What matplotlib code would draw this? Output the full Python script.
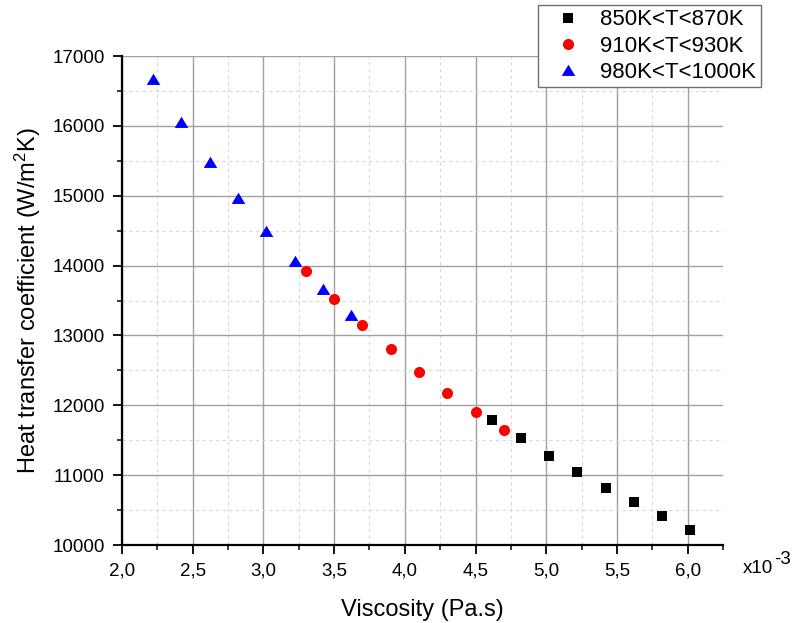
import numpy as np
import matplotlib.pyplot as plt
from matplotlib.ticker import MultipleLocator, FuncFormatter

plt.rcParams['font.family'] = ['Liberation Sans', 'DejaVu Sans']
plt.rcParams['mathtext.fontset'] = 'custom'
plt.rcParams['mathtext.rm'] = 'Liberation Sans'
plt.rcParams['mathtext.it'] = 'Liberation Sans:italic'

# viscosity values are in units of 1e-3 Pa.s
visc_850 = [4.62, 4.82, 5.02, 5.22, 5.42, 5.62, 5.82, 6.02]
htc_850 = [11790, 11530, 11280, 11040, 10820, 10610, 10410, 10220]

visc_910 = [3.30, 3.50, 3.70, 3.90, 4.10, 4.30, 4.50, 4.70]
htc_910 = [13920, 13520, 13150, 12800, 12480, 12180, 11900, 11640]

visc_980 = [2.22, 2.42, 2.62, 2.82, 3.02, 3.22, 3.42, 3.62]
htc_980 = [16670, 16050, 15480, 14970, 14500, 14060, 13660, 13290]

labels = ['850K<T<870K', '910K<T<930K', '980K<T<1000K']

fig = plt.figure(figsize=(7.95, 6.23), dpi=100)
ax = fig.add_axes([0.1535, 0.1252, 0.7559, 0.7849])

tri = [(-1.0, -0.8), (1.0, -0.8), (0.0, 0.85)]
h1, = ax.plot(visc_850, htc_850, 's', color='black', ms=7.3, mew=0, zorder=3)
h3, = ax.plot(visc_980, htc_980, marker=tri, ls='none', color='#0000ff', ms=9.8, mew=0, zorder=3)
h2, = ax.plot(visc_910, htc_910, 'o', color='#ff0000', ms=8, mew=0, zorder=4)

ax.set_xlim(2.0, 6.25)
ax.set_ylim(10000, 17000)
ax.xaxis.set_major_locator(MultipleLocator(0.5))
ax.xaxis.set_minor_locator(MultipleLocator(0.25))
ax.yaxis.set_major_locator(MultipleLocator(1000))
ax.yaxis.set_minor_locator(MultipleLocator(500))
ax.xaxis.set_major_formatter(FuncFormatter(lambda v, p: f'{v:.1f}'.replace('.', ',')))

ax.grid(which='major', color='#a0a0a0', lw=1.0, ls='-', zorder=0)
ax.grid(which='minor', color='#d8d8d8', lw=0.8, ls=(0, (3, 3)), zorder=0)
ax.set_axisbelow(True)

for side in ['top', 'right']:
    ax.spines[side].set_visible(False)
for side in ['left', 'bottom']:
    ax.spines[side].set_linewidth(1.6)

ax.tick_params(which='major', direction='out', length=6.5, width=1.3, labelsize=13.5, pad=6)
ax.tick_params(which='minor', direction='out', length=3.6, width=1.1)

ax.set_xlabel('Viscosity (Pa.s)', fontsize=17, labelpad=14)
ax.set_ylabel('Heat transfer coefficient (W/m$^2$K)', fontsize=17, labelpad=7)

# axis multiplier next to the x axis
fig.text(0.934, 0.080, 'x10', fontsize=13.5, ha='left', va='baseline')
fig.text(0.974, 0.095, '-3', fontsize=13.5, ha='left', va='baseline')

leg = ax.legend([h1, h2, h3], labels, loc='upper right',
                bbox_to_anchor=(0.957, 0.992), bbox_transform=fig.transFigure,
                borderaxespad=0, fancybox=False, framealpha=1, edgecolor='#707070',
                fontsize=16, handletextpad=0.3, labelspacing=0.23, borderpad=0.2,
                handlelength=2.3)
leg.get_frame().set_linewidth(1.0)

fig.savefig('out.png', dpi=100)
